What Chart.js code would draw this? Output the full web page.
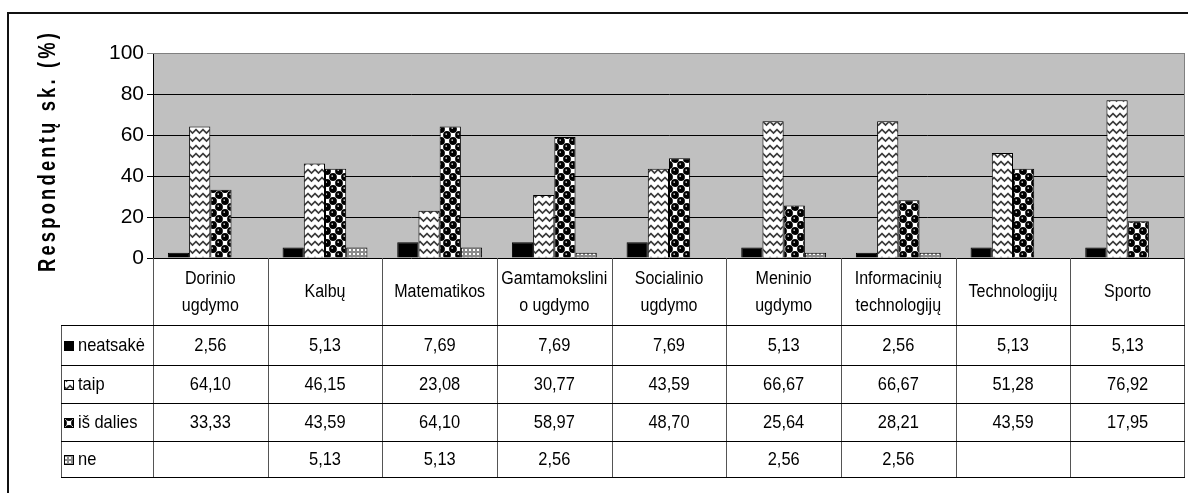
<!DOCTYPE html>
<html>
<head>
<meta charset="utf-8">
<script src="https://cdn.jsdelivr.net/npm/chart.js@4.4.1/dist/chart.umd.min.js"></script>
<style>
  html, body { margin: 0; padding: 0; background: #ffffff; }
  #wrap { position: relative; width: 1188px; height: 493px; }
</style>
</head>
<body>
<div id="wrap"><canvas id="c" width="1188" height="493"></canvas></div>
<script>
// ---------- data ----------
const categories = [
  ['Dorinio', 'ugdymo'],
  ['Kalbų'],
  ['Matematikos'],
  ['Gamtamokslini', 'o ugdymo'],
  ['Socialinio', 'ugdymo'],
  ['Meninio', 'ugdymo'],
  ['Informacinių', 'technologijų'],
  ['Technologijų'],
  ['Sporto']
];
const seriesNames = ['neatsakė', 'taip', 'iš dalies', 'ne'];
const neatsake = [2.56, 5.13, 7.69, 7.69, 7.69, 5.13, 2.56, 5.13, 5.13];
const taip     = [64.10, 46.15, 23.08, 30.77, 43.59, 66.67, 66.67, 51.28, 76.92];
const isDalies = [33.33, 43.59, 64.10, 58.97, 48.70, 25.64, 28.21, 43.59, 17.95];
const ne       = [null, 5.13, 5.13, 2.56, null, 2.56, 2.56, null, null];
const yTicks   = [0, 20, 40, 60, 80, 100];
const yTitle   = 'Respondentų sk. (%)';

const FONT = "'Liberation Sans', Arial, sans-serif";

// ---------- patterns ----------
function makePattern(w, h, draw) {
  const c = document.createElement('canvas');
  c.width = w; c.height = h;
  const g = c.getContext('2d');
  draw(g, w, h);
  return c.getContext('2d').createPattern(c, 'repeat');
}
const patTaip = makePattern(7, 8, (g, w, h) => {
  g.fillStyle = '#ffffff'; g.fillRect(0, 0, w, h);
  g.strokeStyle = '#3a3a3a'; g.lineWidth = 1.7;
  g.beginPath(); g.moveTo(-0.5, 1); g.lineTo(3.5, 5); g.lineTo(7.5, 1); g.stroke();
});
const patDalies = makePattern(12, 12, (g, w, h) => {
  g.fillStyle = '#ffffff'; g.fillRect(0, 0, w, h);
  g.fillStyle = '#000000';
  [[3, 3], [9, 9], [15, 3], [3, 15], [-3, 9], [9, -3]].forEach(([x, y]) => {
    g.beginPath(); g.arc(x, y, 3.9, 0, Math.PI * 2); g.fill();
  });
  g.fillStyle = '#ffffff';
  [[1.5, 1.5], [7.5, 7.5]].forEach(([x, y]) => { g.fillRect(x, y, 1.5, 1.2); });
});
const patNe = makePattern(4, 4, (g, w, h) => {
  g.fillStyle = '#8c8c8c'; g.fillRect(0, 0, w, h);
  g.fillStyle = '#ffffff'; g.fillRect(1, 1, 2, 2);
});
const seriesFills = ['#000000', patTaip, patDalies, patNe];
const seriesData = [neatsake, taip, isDalies, ne];

// ---------- layout constants ----------
const PLOT_TOP = 53, PLOT_BOTTOM = 258, PLOT_LEFT = 153, PLOT_RIGHT = 1185;
const HEADER_BOTTOM = 325;
const ROW_LINES = [325, 365, 403, 441, 477];
const LEGEND_LEFT = 61;
const SX = 0.89;   // horizontal condensation of table text

function fmt(v) { return v == null ? '' : v.toFixed(2).replace('.', ','); }

function text(ctx, t, x, y, align) {
  ctx.save();
  ctx.translate(x, y);
  ctx.scale(SX, 1);
  ctx.textAlign = align;
  ctx.fillText(t, 0, 0);
  ctx.restore();
}

const bgPlugin = {
  id: 'bg',
  beforeDraw(chart) {
    const { ctx, chartArea: a } = chart;
    ctx.save();
    ctx.fillStyle = '#ffffff';
    ctx.fillRect(0, 0, chart.width, chart.height);
    ctx.fillStyle = '#c0c0c0';
    ctx.fillRect(a.left, a.top, a.right - a.left, a.bottom - a.top);
    ctx.restore();
  },
  afterDraw(chart) {
    const { ctx, chartArea: a } = chart;
    const xs = chart.scales.x;
    ctx.save();
    // plot border (top / right)
    ctx.strokeStyle = '#808080'; ctx.lineWidth = 1;
    ctx.beginPath();
    ctx.moveTo(a.left, a.top + 0.5); ctx.lineTo(a.right - 0.5, a.top + 0.5); ctx.lineTo(a.right - 0.5, a.bottom);
    ctx.stroke();

    // data table
    const n = categories.length;
    const half = (xs.getPixelForValue(1) - xs.getPixelForValue(0)) / 2;
    const bounds = [];
    for (let i = 0; i < n; i++) bounds.push(xs.getPixelForValue(i) - half);
    bounds.push(xs.getPixelForValue(n - 1) + half);
    const tableBottom = ROW_LINES[ROW_LINES.length - 1];

    // vertical lines
    ctx.strokeStyle = '#555555'; ctx.lineWidth = 1;
    ctx.beginPath();
    bounds.forEach((bx, i) => {
      const x = Math.round(bx) + 0.5 - (i === n ? 1 : 0);
      ctx.moveTo(x, a.bottom); ctx.lineTo(x, tableBottom);
    });
    ctx.moveTo(LEGEND_LEFT + 0.5, HEADER_BOTTOM); ctx.lineTo(LEGEND_LEFT + 0.5, tableBottom);
    ctx.stroke();
    // horizontal lines
    ctx.strokeStyle = '#000000';
    ctx.beginPath();
    ROW_LINES.forEach(y => {
      ctx.moveTo(LEGEND_LEFT, y + 0.5); ctx.lineTo(Math.round(bounds[n]), y + 0.5);
    });
    ctx.stroke();

    // header text
    ctx.fillStyle = '#000000';
    ctx.textBaseline = 'middle';
    ctx.font = '18px ' + FONT;
    const hc = (a.bottom + HEADER_BOTTOM) / 2 + 1;
    categories.forEach((lines, i) => {
      const cx = xs.getPixelForValue(i);
      const lh = 27;
      lines.forEach((t, k) => {
        text(ctx, t, cx, hc + (k - (lines.length - 1) / 2) * lh, 'center');
      });
    });
    // value rows
    ctx.font = '18.5px ' + FONT;
    seriesData.forEach((arr, r) => {
      const cy = (ROW_LINES[r] + ROW_LINES[r + 1]) / 2 + 1;
      arr.forEach((v, i) => {
        text(ctx, fmt(v), xs.getPixelForValue(i), cy, 'center');
      });
      // legend key
      const kx = 64, ky = Math.round(cy - 5);
      ctx.fillStyle = seriesFills[r];
      ctx.fillRect(kx, ky, 10, 10);
      ctx.strokeStyle = '#000000'; ctx.lineWidth = 1;
      ctx.strokeRect(kx + 0.5, ky + 0.5, 9, 9);
      ctx.fillStyle = '#000000';
      text(ctx, seriesNames[r], 78, cy, 'left');
    });

    // y title (rotated, condensed and letter-spaced)
    ctx.save();
    ctx.translate(55, 152.5);
    ctx.rotate(-Math.PI / 2);
    ctx.font = 'bold 23px ' + FONT;
    ctx.textAlign = 'left'; ctx.textBaseline = 'alphabetic';
    const cs = 0.8, targetLen = 239;
    let glyphs = 0;
    for (const ch of yTitle) glyphs += ctx.measureText(ch).width * cs;
    const sp = (targetLen - glyphs) / (yTitle.length - 1);
    let x = -targetLen / 2;
    for (const ch of yTitle) {
      ctx.save();
      ctx.translate(x, 0);
      ctx.scale(cs, 1);
      ctx.fillText(ch, 0, 0);
      ctx.restore();
      x += ctx.measureText(ch).width * cs + sp;
    }
    ctx.restore();

    // outer border
    ctx.strokeStyle = '#111111'; ctx.lineWidth = 2;
    ctx.beginPath();
    ctx.moveTo(1190, 13); ctx.lineTo(8, 13); ctx.lineTo(8, 495);
    ctx.stroke();
    ctx.restore();
  }
};

new Chart(document.getElementById('c'), {
  type: 'bar',
  data: {
    labels: categories,
    datasets: seriesNames.map((name, i) => ({
      label: name,
      data: seriesData[i],
      backgroundColor: seriesFills[i],
      borderColor: '#000000',
      borderWidth: 1,
      categoryPercentage: 0.74,
      barPercentage: 1.0
    }))
  },
  options: {
    responsive: false,
    animation: false,
    events: [],
    layout: { padding: { left: 0, top: PLOT_TOP, right: 1188 - PLOT_RIGHT, bottom: 493 - ROW_LINES[ROW_LINES.length - 1] } },
    plugins: { legend: { display: false }, tooltip: { enabled: false }, title: { display: false } },
    scales: {
      x: {
        offset: true,
        grid: { display: false },
        border: { display: false },
        ticks: { display: false },
        afterFit(s) { s.height = ROW_LINES[ROW_LINES.length - 1] - PLOT_BOTTOM; }
      },
      y: {
        min: 0, max: 100,
        afterFit(s) { s.width = PLOT_LEFT; },
        afterBuildTicks(s) { s.ticks = yTicks.map(v => ({ value: v })); },
        border: { display: true, color: '#000000', width: 1 },
        grid: {
          color: ctx => (ctx.tick && ctx.tick.value === 100) ? '#808080' : '#000000',
          lineWidth: 1,
          tickLength: 6,
          drawTicks: true
        },
        ticks: {
          color: '#000000',
          font: { family: FONT, size: 21 },
          padding: 3,
          callback: v => String(v)
        }
      }
    }
  },
  plugins: [bgPlugin]
});
</script>
</body>
</html>
